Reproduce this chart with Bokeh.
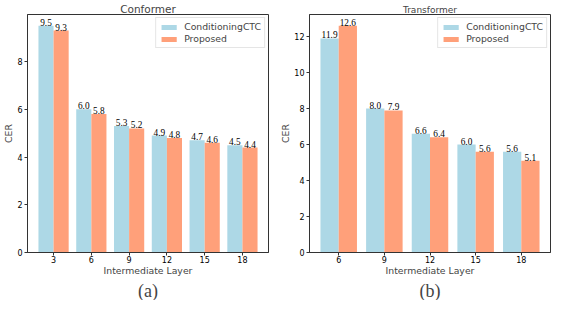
from bokeh.plotting import figure
from bokeh.layouts import row
from bokeh.models import ColumnDataSource, Range1d, FixedTicker, Title, LabelSet
from bokeh.embed import file_html
from bokeh.resources import INLINE

# ---- data ----
conf_layers = ["3", "6", "9", "12", "15", "18"]
conf_cond = [9.5, 6.0, 5.3, 4.9, 4.7, 4.5]
conf_prop = [9.3, 5.8, 5.2, 4.8, 4.6, 4.4]

trans_layers = ["6", "9", "12", "15", "18"]
trans_cond = [11.9, 8.0, 6.6, 6.0, 5.6]
trans_prop = [12.6, 7.9, 6.4, 5.6, 5.1]

series_names = ["ConditioningCTC", "Proposed"]
colors = ["#ADD8E6", "#FFA07A"]

FONT = "DejaVu Sans"


def make_panel(title, layers, cond, prop, caption, yticks, title_size,
               width, height, bl, br):
    n = len(layers)
    idx = list(range(n))
    ymax = max(max(cond), max(prop)) * 1.05
    pad = 0.4 + 0.05 * (n - 1 + 0.8)
    p = figure(width=width, height=height, output_backend="svg",
               toolbar_location=None,
               x_range=Range1d(-pad, n - 1 + pad),
               y_range=Range1d(0, ymax),
               min_border_left=bl, min_border_right=br,
               min_border_top=0, min_border_bottom=0)
    p.title.text = title
    p.title.align = "center"
    p.title.text_font = FONT
    p.title.text_font_size = title_size
    p.title.text_font_style = "normal"
    p.title.standoff = 0

    for k, (vals, off) in enumerate([(cond, -0.2), (prop, 0.2)]):
        src = ColumnDataSource(dict(
            x=[i + off for i in idx], y=vals,
            t=["%.1f" % v for v in vals]))
        p.vbar(x="x", top="y", width=0.4, source=src, fill_color=colors[k],
               line_color=None, legend_label=series_names[k])
        p.add_layout(LabelSet(x="x", y="y", text="t", source=src,
                              text_align="center", text_baseline="bottom",
                              y_offset=0, text_font=FONT,
                              text_font_size="9.3px", text_color="black"))

    p.xaxis.ticker = FixedTicker(ticks=idx)
    p.xaxis.major_label_overrides = {i: layers[i] for i in idx}
    p.yaxis.ticker = FixedTicker(ticks=yticks)
    for ax in (p.xaxis[0], p.yaxis[0]):
        ax.minor_tick_line_color = None
        ax.major_tick_in = 0
        ax.major_tick_out = 3
        ax.major_label_text_font = FONT
        ax.major_label_text_font_size = "8px"
        ax.major_label_text_color = "black"
        ax.axis_line_color = "#333333"
        ax.major_tick_line_color = "#333333"
        ax.axis_label_text_font = FONT
        ax.axis_label_text_font_size = "9.3px"
        ax.axis_label_text_font_style = "normal"
    p.xaxis.major_label_standoff = 0
    p.xaxis.axis_label_standoff = -1
    p.yaxis.major_label_standoff = 2
    p.yaxis.axis_label_standoff = 0
    p.xaxis.axis_label = "Intermediate Layer"
    p.yaxis.axis_label = "CER"
    p.xgrid.visible = False
    p.ygrid.visible = False
    p.outline_line_color = "#333333"
    p.outline_line_alpha = 1

    lg = p.legend[0]
    lg.location = "top_right"
    lg.margin = 3
    lg.padding = 3
    lg.spacing = 1
    lg.label_text_font = FONT
    lg.label_text_font_size = "9.3px"
    lg.label_height = 10
    lg.glyph_height = 6
    lg.glyph_width = 19
    lg.label_standoff = 6
    lg.border_line_color = "#cccccc"
    lg.background_fill_alpha = 0.85

    p.add_layout(Title(text=caption, align="center",
                       text_font="Liberation Serif", text_font_size="18px",
                       text_font_style="normal", standoff=0), "below")
    return p


p1 = make_panel("Conformer", conf_layers, conf_cond, conf_prop, "(a)",
                [0, 2, 4, 6, 8], "10.5px", 276, 300, 20, 8)
p2 = make_panel("Transformer", trans_layers, trans_cond, trans_prop, "(b)",
                [0, 2, 4, 6, 8, 10, 12], "9px", 276, 300, 33, 2)

layout = row(p1, p2)
open("out.html", "w").write(file_html(layout, INLINE))
